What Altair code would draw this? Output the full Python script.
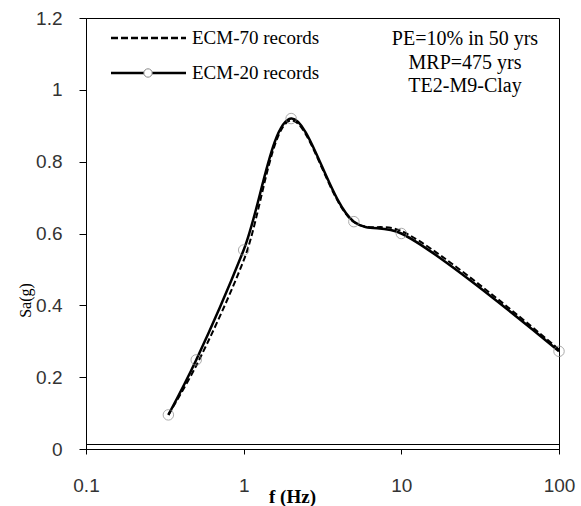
import altair as alt
import pandas as pd

# data
freq = [0.333, 0.5, 1, 2, 5, 10, 100]
ecm70 = [0.095, 0.232, 0.525, 0.915, 0.632, 0.607, 0.277]
ecm20 = [0.095, 0.248, 0.554, 0.92, 0.633, 0.60, 0.272]
x_ticks = [0.1, 1, 10, 100]
y_ticks = [0, 0.2, 0.4, 0.6, 0.8, 1, 1.2]
legend_labels = ["ECM-70 records", "ECM-20 records"]
note_lines = ["PE=10% in 50 yrs", "MRP=475 yrs", "TE2-M9-Clay"]

df = pd.DataFrame({"f": freq * 2,
                   "sa": ecm70 + ecm20,
                   "s": ["ECM-70"] * len(freq) + ["ECM-20"] * len(freq)})
d20 = pd.DataFrame({"f": freq, "sa": ecm20})

W, H = 473, 431
xs = alt.Scale(type="log", domain=[0.1, 100], nice=False)
ys = alt.Scale(domain=[0, 1.2], nice=False)

xaxis = alt.Axis(values=x_ticks, format="~g", grid=False, title="f (Hz)",
                 labelFont="Liberation Sans", labelFontSize=19, labelColor="#333",
                 labelPadding=22, labelFlush=False, tickSize=5, tickColor="black",
                 domainColor="black",
                 titleFont="Liberation Serif", titleFontWeight="bold", titleFontSize=19,
                 titleX=206, titleY=47, titleBaseline="middle", titleAlign="center")
yaxis = alt.Axis(values=y_ticks, format="~g", grid=False, title="Sa(g)",
                 labelFont="Liberation Sans", labelFontSize=19, labelColor="#333",
                 labelPadding=17, labelFlush=False, tickSize=7, tickColor="black",
                 domainColor="black",
                 titleFont="Liberation Serif", titleFontWeight="normal", titleFontSize=16,
                 titleAngle=270, titleX=-61, titleY=282, titleBaseline="middle",
                 titleAlign="center")

base = alt.Chart(df)
dashed = base.transform_filter(alt.datum.s == "ECM-70").mark_line(
    interpolate="catmull-rom", color="black", strokeWidth=2, strokeDash=[6, 3]
).encode(x=alt.X("f:Q", scale=xs, axis=xaxis), y=alt.Y("sa:Q", scale=ys, axis=yaxis))
solid = base.transform_filter(alt.datum.s == "ECM-20").mark_line(
    interpolate="catmull-rom", color="black", strokeWidth=2.5
).encode(x=alt.X("f:Q", scale=xs), y=alt.Y("sa:Q", scale=ys))
pts = alt.Chart(d20).mark_point(shape="circle", size=110, color="#888", strokeWidth=1,
                                filled=False).encode(
    x=alt.X("f:Q", scale=xs), y=alt.Y("sa:Q", scale=ys))

# double bottom line
bline = alt.Chart(pd.DataFrame({"y": [0.0125]})).mark_rule(color="black", strokeWidth=1).encode(
    y=alt.Y("y:Q", scale=ys), x=alt.value(0), x2=alt.value(W))

one = pd.DataFrame({"a": [0]})
# manual legend
leg_dash = alt.Chart(one).mark_rule(
    color="black", strokeWidth=2.5, strokeDash=[7, 3]).encode(
    x=alt.value(25), x2=alt.value(100), y=alt.value(20))
leg_solid = alt.Chart(one).mark_rule(
    color="black", strokeWidth=2.5).encode(
    x=alt.value(25), x2=alt.value(100), y=alt.value(55))
leg_pt = alt.Chart(one).mark_point(
    shape="circle", size=70, stroke="#888", fill="white", filled=True, opacity=1,
    fillOpacity=1, strokeWidth=1).encode(
    x=alt.value(62), y=alt.value(55))

texts = []
for lab, yy in zip(legend_labels, [20, 55]):
    texts.append(alt.Chart(one).mark_text(
        align="left", baseline="middle", font="Liberation Serif", fontSize=19, color="black",
        text=lab).encode(x=alt.value(106), y=alt.value(yy)))
for lab, yy in zip(note_lines, [21, 45, 68]):
    texts.append(alt.Chart(one).mark_text(
        align="center", baseline="middle", font="Liberation Serif", fontSize=20, color="black",
        text=lab).encode(x=alt.value(379), y=alt.value(yy)))

chart = alt.layer(dashed, solid, pts, bline, leg_dash, leg_solid, leg_pt, *texts).properties(
    width=W, height=H,
    autosize=alt.AutoSizeParams(type="none"),
    padding={"left": 86, "top": 18, "right": 22, "bottom": 57},
    background="white"
).configure_view(stroke="black", strokeWidth=1)

chart.save("out.html", embed_options={"renderer": "svg", "actions": False})
